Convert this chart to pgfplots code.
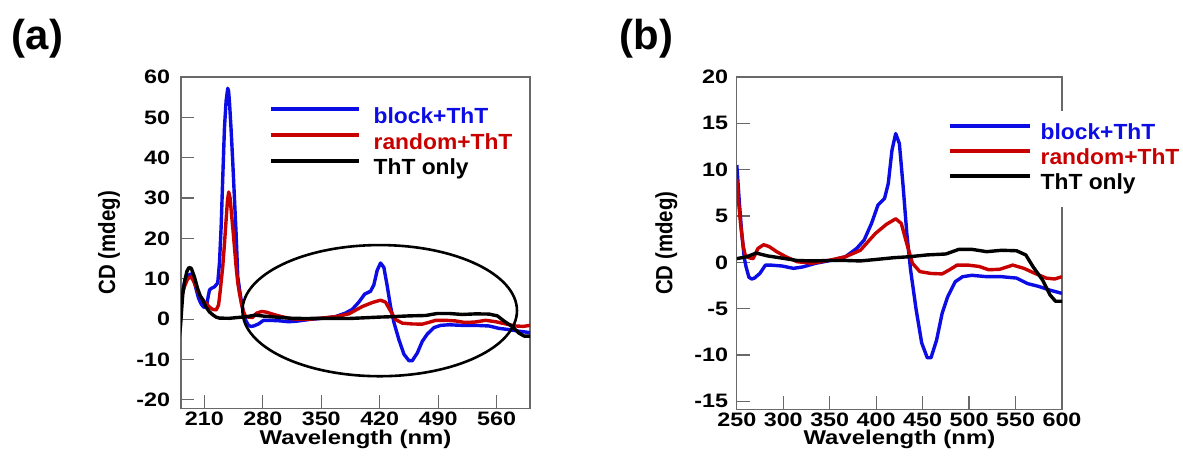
\documentclass[border=0pt]{standalone}
\usepackage{fontspec}
\setmainfont{Liberation Sans}
\newfontfamily\widefont{Liberation Sans}[FakeStretch=1.2]
\newfontfamily\legfont{Liberation Sans}[FakeStretch=1.04]
\newfontfamily\labfont{Liberation Sans}
\usepackage{pgfplots}
\usepackage{pgfplotstable}
\pgfplotsset{compat=1.18}

\definecolor{cdblue}{RGB}{12,12,228}
\definecolor{cdred}{RGB}{200,0,0}
\definecolor{framegray}{RGB}{105,105,105}

% CD spectra (wavelength in nm, ellipticity in mdeg)
\pgfplotstableread{
nm cd
180 2.5
182 4
184.2 7.2
187 9.8
190 10.8
194.3 11.2
197 10
200 7.5
203 5.2
206 3.8
209 3.0
212.2 2.9
214.5 5.5
216.1 7.2
218.2 7.6
220.1 7.8
222 8
224.2 8.5
226 9
228.1 14
230.1 23
232 35
234.1 47.6
236 54
238 57.2
239 56.5
240 54
242 47
243.9 39.3
246 30
248 21.2
250 10.5
252.8 6.4
255 3.5
258 0.5
260 -0.5
263 -1.6
266 -1.8
269 -1.7
274.8 -1.2
280.8 -0.3
286.8 -0.3
298.9 -0.4
310.9 -0.65
320.9 -0.5
334.9 -0.1
350.9 0.2
366.9 0.6
379 1.5
387 2.4
395 4.2
402 6.2
409 6.9
413 8.5
417 12.1
421 13.9
425 12.8
429 8.2
433 3.1
437 -0.8
443 -5.1
449 -8.7
455 -10.3
459 -10.3
465 -8.4
471 -5.5
477 -3.7
485 -2.1
493 -1.55
503 -1.4
519 -1.55
535 -1.55
551 -1.7
563 -2.3
575 -2.6
587 -3.0
600 -3.35
}\blockdata

\pgfplotstableread{
nm cd
180 3.1
183 5.5
186 8
190 10
194.3 10.5
198 9
202 7
206 5.3
210 4.3
212.2 3.9
216 3.0
220 2.4
224.2 2.3
227 3.5
229 7
232 13
234 18.5
236 24.5
237.7 29.5
239.2 31.5
240.8 30
242.5 26
244.3 22
246 17.9
248 13
250 9
252 6.4
254 4.2
256.8 1.8
259 0.8
262.8 0.5
267.6 0.4
272.8 1.5
278.8 1.9
284.8 1.7
292.9 1.15
302.9 0.6
314.9 0.07
330.9 -0.1
350.9 0.25
366.9 0.6
383 1.3
399 3.1
411 4.1
421 4.7
427 4.2
433 2.0
439 -0.1
447 -1.0
459 -1.2
471 -1.25
479 -0.8
487 -0.3
499 -0.3
511 -0.45
521 -0.8
533 -0.75
547 -0.3
559 -0.65
571 -1.2
583 -1.7
592 -1.8
600 -1.55
}\randomdata

\pgfplotstableread{
nm cd
180 -4.5
181.5 -1.5
183 3
184.2 6.4
186.5 9.5
189 11.8
191.5 12.8
194.3 12.6
198 10.5
202 7.5
205 5.8
208.1 4.8
212 3.0
216 1.8
220.1 1.06
224 0.5
228.1 0.25
240 0.2
250 0.4
260.8 0.6
270.8 1.0
282.8 0.7
298.9 0.45
314.9 0.2
330.9 0.15
350.9 0.2
366.9 0.2
383 0.15
399 0.3
419 0.5
435 0.6
455 0.8
475 0.9
489 1.4
503 1.4
519 1.15
535 1.3
551 1.25
561 0.8
569 -0.5
579 -1.9
587 -3.5
593 -4.2
600 -4.2
}\thtdata

\pgfplotsset{
  cdaxis/.style={
    scale only axis,
    anchor=south west,
    clip mode=individual,
    axis line style={draw=framegray, line width=1.2bp},
    tick style={draw=framegray, line width=1.2bp},
    tick align=inside,
    major tick length=13bp,
    xtick pos=bottom, ytick pos=left,
    /pgf/number format/assume math mode=true,
    /pgf/number format/set thousands separator={},
    ticklabel style={font=\widefont\bfseries\fontsize{19.5}{20}\selectfont, inner sep=0pt},
    xticklabel style={anchor=north, yshift=-3.4bp},
    yticklabel style={anchor=east},
    legend cell align=left,
    legend style={draw=none, fill=white, inner sep=12bp, outer sep=0pt, anchor=north west,
      font=\legfont\bfseries\fontsize{22}{22}\selectfont,
      nodes={inner sep=0pt, text height=16bp, text depth=5bp}, row sep=4.8bp},
    every axis plot/.append style={line width=3.4bp, line join=round},
  },
}
\tikzset{
  cdylabel/.style={anchor=base, xscale=1.15, rotate=90, inner sep=0pt,
    font=\labfont\bfseries\fontsize{20.5}{21}\selectfont},
  cdxlabel/.style={anchor=base, inner sep=0pt,
    font=\widefont\bfseries\fontsize{20}{20}\selectfont},
}

\begin{document}
\begin{tikzpicture}
\useasboundingbox (0,0) rectangle (1183bp,457bp);

\node[font=\bfseries\fontsize{42}{42}\selectfont, inner sep=0pt] at (37.5bp,418bp) {(a)};
\node[font=\bfseries\fontsize{42}{42}\selectfont, inner sep=0pt] at (646.5bp,418bp) {(b)};

% (a) full spectrum
\begin{axis}[cdaxis,
  at={(181bp,48.7bp)}, width=349bp, height=331.3bp,
  xmin=182, xmax=600, ymin=-22.1, ymax=60,
  xtick={210,280,...,560}, ytick={-20,-10,...,60},
  yticklabel style={xshift=-10.8bp},
  legend style={at={(axis description cs:0.2186,0.9448)},
    /tikz/every odd column/.append style={column sep=13bp}},
  legend image code/.code={\draw[#1, line width=4bp] (0bp,8.3bp) -- (87.4bp,8.3bp);},
]
\addplot[cdblue] table[x=nm, y=cd] {\blockdata};
\addlegendentry{\textcolor{cdblue}{block+ThT}}
\addplot[cdred] table[x=nm, y=cd] {\randomdata};
\addlegendentry{\textcolor{cdred}{random+ThT}}
\addplot[black] table[x=nm, y=cd] {\thtdata};
\addlegendentry{ThT only}
\draw[black, line width=2.6bp] (axis cs:420,2.1) ellipse [x radius=164.4, y radius=16.25];
\node[cdxlabel] at (axis description cs:0.5,-0.1087) {Wavelength (nm)};
\node[cdylabel] at (axis description cs:-0.189,0.5) {CD (mdeg)};
\end{axis}

% (b) visible region
\begin{axis}[cdaxis,
  at={(736.8bp,47.7bp)}, width=325.2bp, height=332.3bp,
  xmin=250, xmax=600, ymin=-15.86, ymax=20,
  restrict x to domain=250:600,
  xtick={250,300,...,600}, ytick={-15,-10,...,20},
  yticklabel style={xshift=-8.6bp},
  legend style={at={(axis description cs:0.6116,0.8968)}, row sep=4.2bp,
    /tikz/every odd column/.append style={column sep=9bp}},
  legend image code/.code={\draw[#1, line width=4bp] (0bp,8bp) -- (80bp,8bp);},
]
\addplot[cdblue] table[x=nm, y=cd] {\blockdata};
\addlegendentry{\textcolor{cdblue}{block+ThT}}
\addplot[cdred] table[x=nm, y=cd] {\randomdata};
\addlegendentry{\textcolor{cdred}{random+ThT}}
\addplot[black] table[x=nm, y=cd] {\thtdata};
\addlegendentry{ThT only}
\node[cdxlabel] at (axis description cs:0.5,-0.1053) {Wavelength (nm)};
\node[cdylabel] at (axis description cs:-0.198,0.5) {CD (mdeg)};
\end{axis}
\end{tikzpicture}
\end{document}
